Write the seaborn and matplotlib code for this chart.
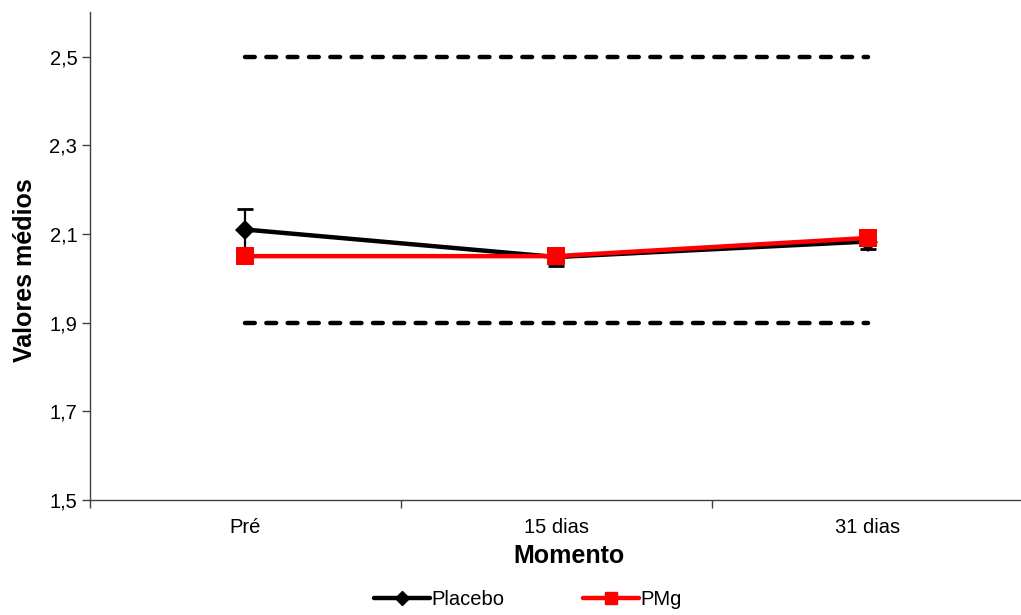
import pandas as pd
import seaborn as sns
import matplotlib.pyplot as plt
from matplotlib.lines import Line2D

momentos = ['Pré', '15 dias', '31 dias']
placebo = [2.11, 2.048, 2.083]
placebo_err = [0.047, 0.02, 0.016]
pmg = [2.05, 2.05, 2.091]
pmg_err = [0.01, 0.01, 0.01]
limites = [1.9, 2.5]

sns.set_style('white')
plt.rcParams['font.family'] = ['Liberation Sans', 'DejaVu Sans']
plt.rcParams['text.color'] = 'black'
plt.rcParams['xtick.color'] = 'black'
plt.rcParams['ytick.color'] = 'black'
plt.rcParams['axes.labelcolor'] = 'black'

df = pd.DataFrame({
    'Momento': list(range(3)) * 2,
    'Valor': placebo + pmg,
    'Grupo': ['Placebo'] * 3 + ['PMg'] * 3,
})

fig = plt.figure(figsize=(10.21, 6.15), dpi=100)
ax = fig.add_axes([0.088, 0.187, 0.914, 0.793])

# limites de referencia
for lim in limites:
    ax.plot([0, 2], [lim, lim], color='black', lw=3.2, ls=(0, (2.2, 2.6)),
            dash_capstyle='round', zorder=1)

ax.errorbar(range(3), placebo, yerr=placebo_err, fmt='none', ecolor='black',
            elinewidth=1.6, capsize=6, capthick=2, zorder=2)
ax.errorbar(range(3), pmg, yerr=pmg_err, fmt='none', ecolor='red',
            elinewidth=1.6, capsize=6, capthick=2, zorder=2)

sns.lineplot(data=df, x='Momento', y='Valor', hue='Grupo', style='Grupo',
             palette={'Placebo': 'black', 'PMg': 'red'},
             markers={'Placebo': 'D', 'PMg': 's'}, dashes=False,
             linewidth=3.2, markersize=10, markeredgewidth=0,
             legend=False, ax=ax, zorder=3)
# marcador quadrado maior
for line in ax.lines[-1:]:
    line.set_markersize(12.5)

ax.set_xlim(-0.5, 2.5)
ax.set_ylim(1.5, 2.6)
ax.set_xticks(range(3))
ax.set_xticklabels(momentos)
ax.set_xticks([-0.5, 0.5, 1.5, 2.5], minor=True)
ax.set_yticks([1.5, 1.7, 1.9, 2.1, 2.3, 2.5])
ax.set_yticklabels(['1,5', '1,7', '1,9', '2,1', '2,3', '2,5'])
ax.tick_params(axis='x', which='major', length=0, pad=13, labelsize=14.5)
ax.tick_params(axis='x', which='minor', length=6, width=1, color='#404040',
               direction='out', bottom=True)
ax.tick_params(axis='y', length=6, width=1, color='#404040', direction='out',
               left=True, labelsize=14.5, pad=3)

for side in ['top', 'right']:
    ax.spines[side].set_visible(False)
for side in ['left', 'bottom']:
    ax.spines[side].set_color('#404040')
    ax.spines[side].set_linewidth(1)

ax.set_xlabel('Momento', fontsize=18, fontweight='bold')
ax.set_ylabel('Valores médios', fontsize=18, fontweight='bold')
ax.xaxis.set_label_coords(0.513, -0.090)
ax.yaxis.set_label_coords(-0.057, 0.471)

handles = [
    Line2D([], [], color='black', lw=3.2, marker='D', markersize=7),
    Line2D([], [], color='red', lw=3.2, marker='s', markersize=9),
]
fig.legend(handles, ['Placebo', 'PMg'], loc='center', bbox_to_anchor=(0.5167, 0.025),
           ncol=2, frameon=False, fontsize=14.5, handlelength=2.8,
           handletextpad=0.05, columnspacing=3.9)

fig.savefig('out.png', dpi=100)
